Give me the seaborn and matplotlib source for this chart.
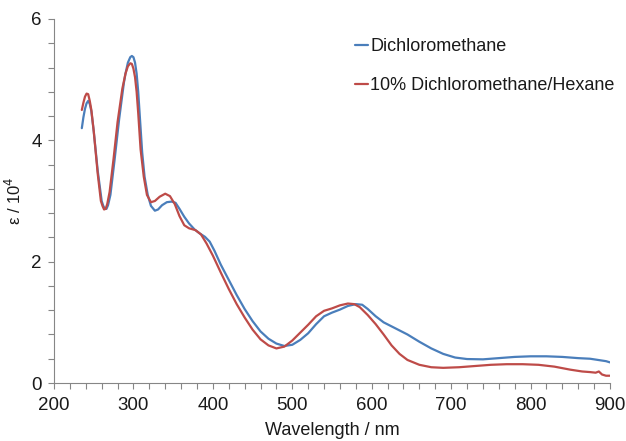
import numpy as np
import pandas as pd
import matplotlib
matplotlib.use("Agg")
import matplotlib.pyplot as plt
from matplotlib.ticker import MultipleLocator
import seaborn as sns

# UV-vis absorption spectra, epsilon in units of 10^4
wl_dcm = [235, 237, 239, 241, 243, 245, 247, 250, 255, 260, 262, 264, 266, 268,
          271, 276, 282, 288, 290, 293, 296, 298, 300, 302, 304, 306, 308, 311,
          314, 318, 322, 327, 331, 336, 342, 348, 353, 358, 364, 370, 377, 384,
          390, 396, 402, 410, 420, 430, 440, 450, 460, 470, 480, 490, 500, 510,
          520, 530, 540, 550, 560, 570, 580, 588, 595, 605, 615, 630, 645, 660,
          675, 690, 705, 720, 740, 760, 780, 800, 820, 840, 860, 875, 885, 895,
          900]
eps_dcm = [4.20, 4.38, 4.52, 4.61, 4.65, 4.60, 4.48, 4.15, 3.50, 3.00, 2.92, 2.87,
           2.87, 2.93, 3.10, 3.65, 4.35, 4.95, 5.10, 5.28, 5.37, 5.39, 5.37, 5.28,
           5.10, 4.80, 4.40, 3.80, 3.40, 3.10, 2.92, 2.84, 2.86, 2.93, 2.98, 2.99,
           2.97, 2.87, 2.74, 2.63, 2.53, 2.46, 2.41, 2.33, 2.18, 1.95, 1.70, 1.45,
           1.22, 1.02, 0.85, 0.73, 0.65, 0.61, 0.63, 0.71, 0.82, 0.97, 1.10, 1.16,
           1.21, 1.27, 1.30, 1.29, 1.22, 1.10, 1.00, 0.90, 0.80, 0.68, 0.57, 0.48,
           0.42, 0.395, 0.39, 0.41, 0.43, 0.44, 0.44, 0.43, 0.41, 0.40, 0.38, 0.36,
           0.34]

wl_mix = [235, 237, 239, 241, 243, 245, 247, 250, 255, 259, 261, 263, 265, 267,
          270, 275, 280, 286, 290, 293, 296, 298, 300, 302, 304, 306, 309, 313,
          317, 322, 327, 333, 340, 346, 352, 358, 364, 370, 378, 385, 392, 400,
          410, 420, 430, 440, 450, 460, 470, 480, 490, 500, 510, 520, 530, 540,
          550, 560, 570, 578, 585, 595, 605, 615, 625, 635, 645, 660, 675, 690,
          710, 730, 750, 770, 790, 810, 830, 850, 865, 875, 882, 886, 890, 895,
          900]
eps_mix = [4.50, 4.62, 4.72, 4.77, 4.76, 4.65, 4.50, 4.15, 3.45, 3.00, 2.92, 2.86,
           2.87, 2.95, 3.15, 3.70, 4.30, 4.85, 5.10, 5.22, 5.27, 5.26, 5.18, 5.04,
           4.80, 4.45, 3.85, 3.40, 3.10, 2.98, 3.00, 3.07, 3.12, 3.08, 2.95, 2.75,
           2.60, 2.55, 2.52, 2.45, 2.30, 2.10, 1.82, 1.55, 1.30, 1.08, 0.88, 0.72,
           0.62, 0.57, 0.60, 0.70, 0.83, 0.96, 1.10, 1.19, 1.23, 1.28, 1.31, 1.30,
           1.25, 1.12, 0.97, 0.80, 0.62, 0.48, 0.38, 0.30, 0.26, 0.25, 0.26, 0.28,
           0.30, 0.31, 0.31, 0.30, 0.27, 0.22, 0.19, 0.18, 0.17, 0.19, 0.14, 0.12,
           0.12]

labels = ["Dichloromethane", "10% Dichloromethane/Hexane"]
colors = ["#4a7ebb", "#be4b48"]

df = pd.concat([
    pd.DataFrame({"wl": wl_dcm, "eps": eps_dcm, "solvent": labels[0]}),
    pd.DataFrame({"wl": wl_mix, "eps": eps_mix, "solvent": labels[1]}),
], ignore_index=True)

sns.set_theme(style="ticks")
plt.rcParams["font.family"] = ["Liberation Sans", "DejaVu Sans"]

fig = plt.figure(figsize=(6.26, 4.41), dpi=100)
ax = fig.add_axes([0.0863, 0.1315, 0.8881, 0.8255])

sns.lineplot(data=df, x="wl", y="eps", hue="solvent", hue_order=labels,
             palette=dict(zip(labels, colors)), sort=False, estimator=None,
             linewidth=1.6, ax=ax)

ax.set_xlim(200, 900)
ax.set_ylim(0, 6)
ax.xaxis.set_major_locator(MultipleLocator(100))
ax.xaxis.set_minor_locator(MultipleLocator(20))
ax.yaxis.set_major_locator(MultipleLocator(2))
ax.yaxis.set_minor_locator(MultipleLocator(0.4))
ax.tick_params(axis="both", which="major", length=4, width=0.8, color="#868686",
               labelsize=13.5, labelcolor="#1a1a1a")
ax.tick_params(axis="x", which="major", pad=6)
ax.tick_params(axis="y", which="major", pad=5)
ax.tick_params(axis="both", which="minor", length=4, width=0.8, color="#868686")
for side in ("top", "right"):
    ax.spines[side].set_visible(False)
for side in ("left", "bottom"):
    ax.spines[side].set_color("#868686")
    ax.spines[side].set_linewidth(0.8)

ax.set_xlabel("Wavelength / nm", fontsize=13, color="#1a1a1a", labelpad=6)
ax.set_ylabel("ε / 10$^4$", fontsize=12, color="#1a1a1a")
ax.yaxis.set_label_coords(-0.054, 0.5)

leg = ax.legend(loc="upper left", bbox_to_anchor=(0.528, 0.968), frameon=False,
                fontsize=13, handlelength=0.75, handletextpad=0.1,
                labelspacing=1.25, borderaxespad=0)
for t in leg.get_texts():
    t.set_color("#1a1a1a")

fig.savefig("out.png", dpi=100)
